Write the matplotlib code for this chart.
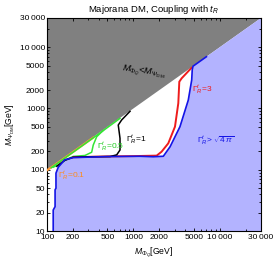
import numpy as np
import matplotlib
matplotlib.use('Agg')
import matplotlib.pyplot as plt
from matplotlib.ticker import FixedLocator, FixedFormatter, LogLocator, NullFormatter

plt.rcParams['font.family'] = ['Liberation Sans', 'DejaVu Sans']
plt.rcParams['mathtext.fontset'] = 'custom'
plt.rcParams['mathtext.rm'] = 'Liberation Sans'
plt.rcParams['mathtext.it'] = 'Liberation Sans:italic'
plt.rcParams['mathtext.bf'] = 'Liberation Sans:bold'

# axis ranges and ticks
x_lim = [100, 30000]
y_lim = [10, 30000]
x_ticks = [100, 200, 500, 1000, 2000, 5000, 10000, 30000]
x_ticklabels = ['100', '200', '500', '1000', '2000', '5000', '10\u2009000', '30\u2009000']
y_ticks = [10, 20, 50, 100, 200, 500, 1000, 2000, 5000, 10000, 30000]
y_ticklabels = ['10', '20', '50', '100', '200', '500', '1000', '2000', '5000', '10\u2009000', '30\u2009000']

# M_PhiQ = M_DM diagonal
diag = [100, 30000]

# contour for Gamma = sqrt(4 pi) (edge of the blue region)
blue_x = [118, 118, 124, 124, 127, 127, 135, 160, 201, 500, 1190, 1700, 2220, 2660, 3460, 4320, 4730, 4800, 4900, 7000]
blue_y = [10, 22, 25, 47, 50, 88, 110, 145, 158, 164, 166, 163, 166, 238, 505, 1374, 2917, 4300, 4900, 7000]

# Gamma = 3
red_x = [201, 500, 1000, 1860, 2120, 2535, 3030, 3310, 3400, 3620, 4700]
red_y = [160, 165, 167, 170, 197, 270, 505, 1217, 2735, 3110, 4600]

# Gamma = 1
black_x = [130, 160, 201, 300, 536, 641, 700, 700, 668, 731, 914]
black_y = [114, 142, 160, 163, 164, 175, 210, 326, 537, 649, 900]

# Gamma = 0.5 (two pieces)
green_x1 = [112, 200, 400, 700]
green_y1 = [108, 193, 388, 690]
green_x2 = [118, 135, 169, 201, 275, 329, 343, 376, 448]
green_y2 = [110, 120, 148, 165, 171, 193, 253, 346, 440]

# Gamma = 0.1
orange_x = [101, 150, 250, 343]
orange_y = [99, 146, 244, 335]

fig = plt.figure(figsize=(2.74, 2.63), dpi=100)
ax = fig.add_axes([47 / 274, 32 / 263, 214 / 274, 213 / 263])
ax.set_xscale('log')
ax.set_yscale('log')

ax.fill([diag[0], diag[1], diag[0]], [diag[0], diag[1], diag[1]], color='#808080', lw=0, zorder=1)
ax.fill(blue_x + [x_lim[1], x_lim[1]], blue_y + [y_lim[1], y_lim[0]], color='#b3b3ff', lw=0, zorder=1)

ax.plot(orange_x, orange_y, color='#ff9933', lw=1.6, zorder=3)
ax.plot(green_x1, green_y1, color='#33e633', lw=1.1, zorder=3)
ax.plot(green_x2, green_y2, color='#33e633', lw=1.1, zorder=3)
ax.plot(red_x, red_y, color='#ee1c1c', lw=1.4, zorder=3)
ax.plot(black_x, black_y, color='black', lw=1.1, zorder=4)
ax.plot(blue_x, blue_y, color='#1414e6', lw=1.2, zorder=5)

fs = 6
ax.text(134, 79, r'$\Gamma^t_R$=0.1', color='#ff8c1a', fontsize=fs, va='center', ha='left', zorder=6)
ax.text(379, 235, r'$\Gamma^t_R$=0.5', color='#22cc22', fontsize=fs, va='center', ha='left', zorder=6)
ax.text(820, 306, r'$\Gamma^t_R$=1', color='black', fontsize=fs, va='center', ha='left', zorder=6)
ax.text(4730, 2005, r'$\Gamma^t_R$=3', color='#ee1c1c', fontsize=fs, va='center', ha='left', zorder=6)
ax.text(5400, 294, r'$\Gamma^t_R$> $\sqrt{4\,\pi}$', color='#1414e6', fontsize=fs, va='center', ha='left', zorder=6)
ax.text(1300, 3900, r'$M_{\Phi_Q}$<$M_{\Psi_{\rm DM}}$', color='black', fontsize=6.6, va='center', ha='center',
        rotation=-8, zorder=6)

ax.set_xlim(x_lim)
ax.set_ylim(y_lim)
ax.xaxis.set_major_locator(FixedLocator(x_ticks))
ax.xaxis.set_major_formatter(FixedFormatter(x_ticklabels))
ax.yaxis.set_major_locator(FixedLocator(y_ticks))
ax.yaxis.set_major_formatter(FixedFormatter(y_ticklabels))
ax.xaxis.set_minor_locator(LogLocator(base=10, subs=np.arange(2, 10)))
ax.yaxis.set_minor_locator(LogLocator(base=10, subs=np.arange(2, 10)))
ax.xaxis.set_minor_formatter(NullFormatter())
ax.yaxis.set_minor_formatter(NullFormatter())
ax.tick_params(which='both', direction='in', top=True, right=True, labelsize=6, width=0.6)
ax.tick_params(axis='x', pad=2.5)
ax.tick_params(axis='y', pad=1.5)
ax.tick_params(which='major', length=2.5)
ax.tick_params(which='minor', length=1.3)
for sp in ax.spines.values():
    sp.set_linewidth(0.8)

ax.set_xlabel(r'$M_{\Phi_Q}$[GeV]', fontsize=6.2, labelpad=3)
ax.set_ylabel(r'$M_{\Psi_{\rm DM}}$[GeV]', fontsize=6.2, labelpad=2)
ax.set_title(r'Majorana DM, Coupling with $t_R$', fontsize=6.8, pad=4)

fig.savefig('out.png', dpi=100)
